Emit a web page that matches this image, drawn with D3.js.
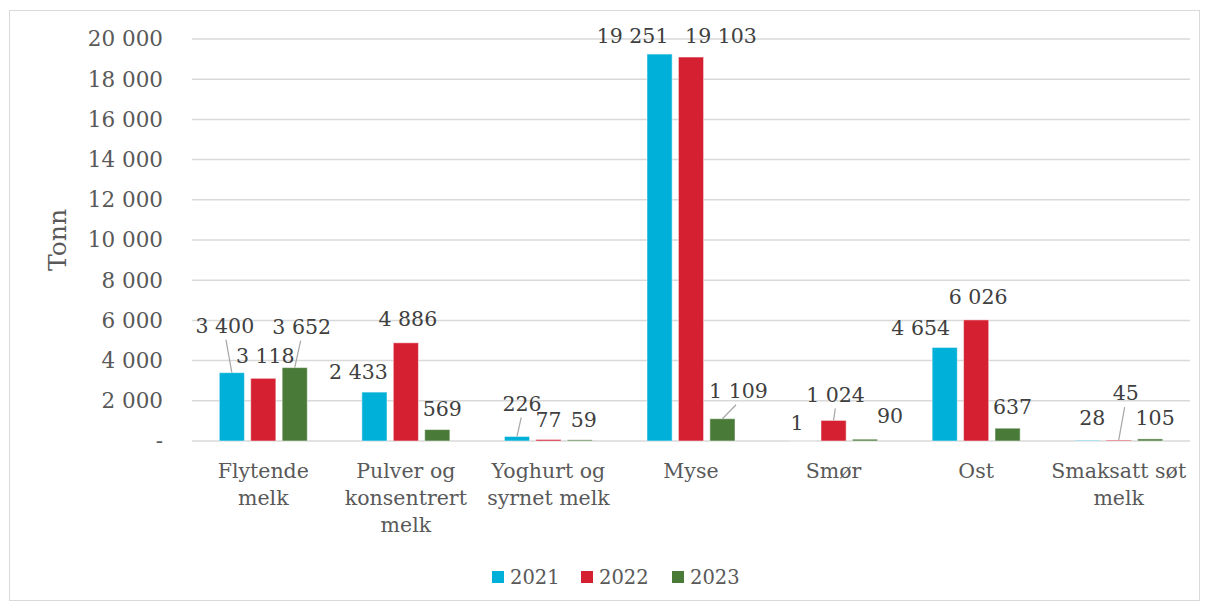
<!DOCTYPE html>
<html>
<head>
<meta charset="utf-8">
<script src="https://cdn.jsdelivr.net/npm/d3@7"></script>
<style>
  body { margin: 0; background: #fff; }
  text { font-family: "DejaVu Serif", Georgia, serif; }
</style>
</head>
<body>
<div id="chart"></div>
<script>
// categories (line breaks as in the original axis)
const categories = [
  "Flytende\nmelk",
  "Pulver og\nkonsentrert\nmelk",
  "Yoghurt og\nsyrnet melk",
  "Myse",
  "Smør",
  "Ost",
  "Smaksatt søt\nmelk"
]
const years = ["2021", "2022", "2023"]
const values2021 = [3400, 2433, 226, 19251, 1, 4654, 28]
const values2022 = [3118, 4886, 77, 19103, 1024, 6026, 45]
const values2023 = [3652, 569, 59, 1109, 90, 637, 105]
const yTicks = [0, 2000, 4000, 6000, 8000, 10000, 12000, 14000, 16000, 18000, 20000]

const colors = ["#00B0D8", "#D42030", "#4A7A38"]

// label placement relative to bar top centre: [dx, dy, leader]
const labelNudge = [
  [[-7, -47, 1], [2, -23, 0], [7, -41, 1]],
  [[-16, -20, 0], [2, -24, 0], [5, -21, 0]],
  [[5, -33, 1], [0, -20, 0], [4, -20, 0]],
  [[-27, -18, 0], [30, -21, 0], [16, -28, 1]],
  [[-5, -18, 0], [2, -26, 1], [25, -23, 0]],
  [[-24, -20, 0], [2, -23, 0], [5, -21, 0]],
  [[5, -23, 0], [7, -47, 1], [5, -21, 0]]
]

const series = [values2021, values2022, values2023]
const width = 1208, height = 608
const margin = {top: 39, right: 18, bottom: 167, left: 192}

const locale = d3.formatLocale({decimal: ",", thousands: "\u00a0", grouping: [3], currency: ["", " kr"]})
const fmt = locale.format(",d")

const svg = d3.select("#chart").append("svg")
    .attr("width", width).attr("height", height)

svg.append("rect")
    .attr("x", 9.5).attr("y", 10.5)
    .attr("width", 1190).attr("height", 590)
    .attr("fill", "#fff").attr("stroke", "#d9d9d9")

const x = d3.scaleBand()
    .domain(d3.range(categories.length))
    .range([margin.left, width - margin.right])
const xs = d3.scaleBand()
    .domain(years)
    .range([x.bandwidth() / 2 - 44, x.bandwidth() / 2 + 44])
    .paddingInner(0.2)
const y = d3.scaleLinear()
    .domain([0, 20000])
    .range([height - margin.bottom, margin.top])

// gridlines
svg.append("g")
    .attr("stroke", "#d9d9d9")
    .attr("stroke-width", 1.5)
  .selectAll("line")
  .data(yTicks)
  .enter().append("line")
    .attr("x1", margin.left)
    .attr("x2", width - margin.right)
    .attr("y1", d => y(d))
    .attr("y2", d => y(d))

// y axis
const yAxis = svg.append("g")
    .attr("transform", "translate(" + (margin.left - 29) + ",0)")
    .call(d3.axisLeft(y).tickValues(yTicks).tickSize(0).tickPadding(0)
      .tickFormat(d => d === 0 ? "-" : fmt(d)))
yAxis.select(".domain").remove()
yAxis.selectAll("text")
    .attr("fill", "#595959")
    .attr("font-size", 21.5)
    .attr("font-family", "DejaVu Serif")

svg.append("text")
    .attr("transform", "translate(66," + y(10000) + ") rotate(-90)")
    .attr("text-anchor", "middle")
    .attr("fill", "#595959")
    .attr("font-size", 25)
    .text("Tonn")

// bars
const groups = svg.append("g").selectAll("g")
  .data(categories)
  .enter().append("g")
    .attr("transform", (d, i) => "translate(" + x(i) + ",0)")

groups.selectAll("rect")
  .data((d, i) => years.map((yr, j) => ({yr, j, i, v: series[j][i]})))
  .enter().append("rect")
    .attr("x", d => xs(d.yr))
    .attr("width", xs.bandwidth())
    .attr("y", d => y(d.v))
    .attr("height", d => y(0) - y(d.v))
    .attr("fill", d => colors[d.j])
    .attr("stroke", "#fff")
    .attr("stroke-opacity", 0.5)
    .attr("stroke-width", 1)

// leader lines
groups.selectAll("line.leader")
  .data((d, i) => years.map((yr, j) => ({yr, j, i, v: series[j][i], n: labelNudge[i][j]})).filter(d => d.n[2]))
  .enter().append("line")
    .attr("class", "leader")
    .attr("stroke", "#a6a6a6")
    .attr("stroke-width", 1.2)
    .attr("x1", d => xs(d.yr) + xs.bandwidth() / 2 + d.n[0] * 0.85)
    .attr("y1", d => y(d.v) + d.n[1] + 14)
    .attr("x2", d => xs(d.yr) + xs.bandwidth() / 2)
    .attr("y2", d => y(d.v))

// data labels
groups.selectAll("text.val")
  .data((d, i) => years.map((yr, j) => ({yr, j, i, v: series[j][i], n: labelNudge[i][j]})))
  .enter().append("text")
    .attr("class", "val")
    .attr("x", d => xs(d.yr) + xs.bandwidth() / 2 + d.n[0])
    .attr("y", d => y(d.v) + d.n[1])
    .attr("dy", "0.35em")
    .attr("text-anchor", "middle")
    .attr("fill", "#404040")
    .attr("font-size", 20.5)
    .text(d => fmt(d.v))

// category labels
groups.append("text")
    .attr("text-anchor", "middle")
    .attr("fill", "#595959")
    .attr("font-size", 20.5)
  .selectAll("tspan")
  .data(d => d.split("\n"))
  .enter().append("tspan")
    .attr("x", x.bandwidth() / 2)
    .attr("y", (d, k) => 478 + k * 27)
    .text(d => d)

// legend
const legend = svg.append("g")
    .attr("transform", "translate(492,571)")
const li = legend.selectAll("g")
  .data(years)
  .enter().append("g")
    .attr("transform", (d, j) => "translate(" + [0, 89, 180][j] + ",0)")
li.append("rect")
    .attr("width", 12).attr("height", 12)
    .attr("fill", (d, j) => colors[j])
li.append("text")
    .attr("x", 18).attr("y", 13)
    .attr("fill", "#595959")
    .attr("font-size", 19.5)
    .text(d => d)
</script>
</body>
</html>
